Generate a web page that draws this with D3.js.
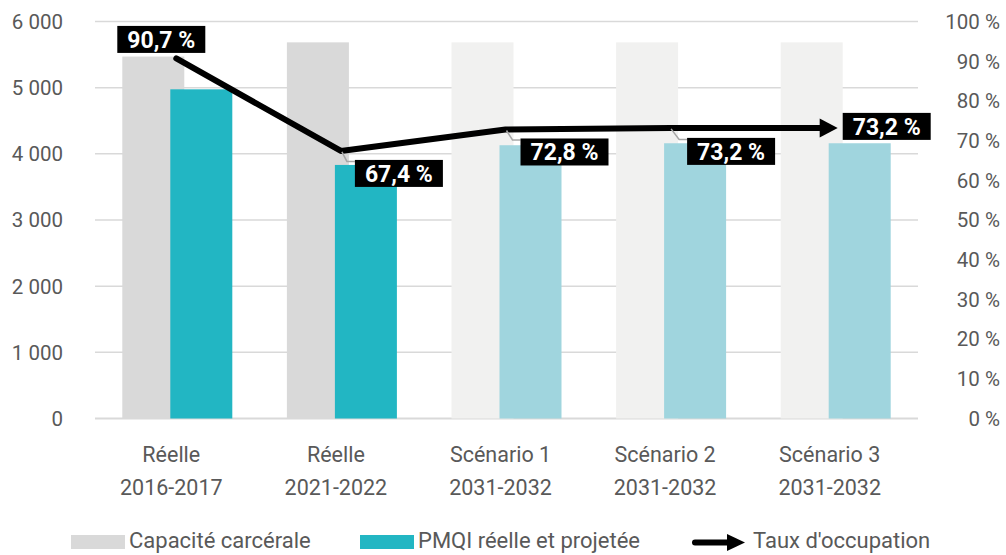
<!DOCTYPE html>
<html><head><meta charset="utf-8">
<script src="https://cdn.jsdelivr.net/npm/d3@7"></script>
<style>
html,body{margin:0;padding:0;background:#fff;}
svg{display:block;font-family:Roboto,"Noto Sans",sans-serif;}
</style></head>
<body><svg id="c" width="1006" height="555"></svg>
<script>
const categoriesL1 = ["Réelle","Réelle","Scénario 1","Scénario 2","Scénario 3"];
const categoriesL2 = ["2016-2017","2021-2022","2031-2032","2031-2032","2031-2032"];
const capacite = [5470, 5685, 5685, 5685, 5685];
const pmqi = [4975, 3832, 4130, 4160, 4160];
const taux = [90.7, 67.4, 72.8, 73.2, 73.2];
const tauxLabels = ["90,7 %","67,4 %","72,8 %","73,2 %","73,2 %"];
const leftTicks = [0,1000,2000,3000,4000,5000,6000];
const rightTicks = [0,10,20,30,40,50,60,70,80,90,100];
const seriesNames = ["Capacité carcérale","PMQI réelle et projetée","Taux d'occupation"];

const svg = d3.select("#c");
const x = d3.scaleBand().domain(d3.range(5)).range([95,918]);
const yL = d3.scaleLinear().domain([0,6000]).range([418.5,21.5]);
const yR = d3.scaleLinear().domain([0,100]).range([418.5,21.5]);
const fmtL = d => d3.format(",")(d).replace(/,/g," ");
const txtCol = "#595959";

// gridlines
svg.append("g").selectAll("line").data(leftTicks).join("line")
  .attr("x1",95).attr("x2",918).attr("y1",d=>yL(d)).attr("y2",d=>yL(d))
  .attr("stroke","#d9d9d9").attr("stroke-width",d=>d===0?2:1.5);

// left axis labels
svg.append("g").selectAll("text").data(leftTicks).join("text")
  .attr("x",63).attr("y",d=>yL(d)).attr("dy","0.36em").attr("text-anchor","end")
  .attr("font-size",20.5).attr("fill",txtCol).text(fmtL);
// right axis labels
svg.append("g").selectAll("text").data(rightTicks).join("text")
  .attr("x",1000).attr("y",d=>yR(d)).attr("dy","0.36em").attr("text-anchor","end")
  .attr("font-size",20.5).attr("fill",txtCol).text(d=>d+" %");

const cx = i => x(i)+x.bandwidth()/2;
const greyCol = i => i<2 ? "#d9d9d9" : "#f1f1f0";
const tealCol = i => i<2 ? "#22b6c3" : "#a0d5de";
// capacity bars
svg.append("g").selectAll("rect").data(capacite).join("rect")
  .attr("x",(d,i)=>cx(i)-55).attr("width",62)
  .attr("y",d=>yL(d)).attr("height",d=>yL(0)-yL(d)).attr("fill",(d,i)=>greyCol(i));
// pmqi bars
svg.append("g").selectAll("rect").data(pmqi).join("rect")
  .attr("x",(d,i)=>cx(i)-7).attr("width",62)
  .attr("y",d=>yL(d)).attr("height",d=>yL(0)-yL(d)).attr("fill",(d,i)=>tealCol(i));

// category labels
const cat = svg.append("g");
cat.selectAll("text.l1").data(categoriesL1).join("text").attr("class","l1")
  .attr("x",(d,i)=>cx(i)-6).attr("y",462).attr("text-anchor","middle")
  .attr("font-size",21.5).attr("fill",txtCol).text(d=>d);
cat.selectAll("text.l2").data(categoriesL2).join("text").attr("class","l2")
  .attr("x",(d,i)=>cx(i)-6).attr("y",495).attr("text-anchor","middle")
  .attr("font-size",21.5).attr("fill",txtCol).text(d=>d);

// line
const pts = taux.map((v,i)=>[cx(i)+(i===4?2:-1), yR(v)]);
const last = pts[4];
const linePts = pts.slice(0,4).concat([[last[0]-14,last[1]]]);
svg.append("path").attr("d",d3.line()(linePts)).attr("fill","none")
  .attr("stroke","#000").attr("stroke-width",6).attr("stroke-linecap","round").attr("stroke-linejoin","round");
svg.append("path").attr("d",`M${last[0]-18},${last[1]-9.5}L${last[0]},${last[1]}L${last[0]-18},${last[1]+9.5}Z`).attr("fill","#000");

// data labels
const offs = [[-59,-32.5,false],[14,9,true],[15,9,true],[17,10,true],[5,-15,false]];
const lab = svg.append("g");
taux.forEach((v,i)=>{
  const p = pts[i];
  const o = offs[i];
  const bx = p[0]+o[0], by = p[1]+o[1];
  const bw = 88, bh = 27;
  if(o[2]){
    lab.append("polyline").attr("points",`${p[0]+1},${p[1]+1} ${bx-8},${by+1.5} ${bx},${by+1.5}`)
      .attr("fill","none").attr("stroke","#a6a6a6").attr("stroke-width",1.5);
  }
  lab.append("rect").attr("x",bx).attr("y",by).attr("width",bw).attr("height",bh).attr("fill","#000");
  lab.append("text").attr("x",bx+bw/2).attr("y",by+bh/2).attr("dy","0.36em").attr("text-anchor","middle")
    .attr("font-size",23).attr("font-weight","bold").attr("fill","#fff").text(tauxLabels[i]);
});

// legend
const lg = svg.append("g");
lg.append("rect").attr("x",71).attr("y",535).attr("width",54).attr("height",14).attr("fill","#d9d9d9");
lg.append("text").attr("x",129).attr("y",548).attr("font-size",22).attr("fill",txtCol).text(seriesNames[0]);
lg.append("rect").attr("x",360).attr("y",535).attr("width",54).attr("height",14).attr("fill","#22b6c3");
lg.append("text").attr("x",418).attr("y",548).attr("font-size",22).attr("fill",txtCol).text(seriesNames[1]);
lg.append("line").attr("x1",695).attr("x2",730).attr("y1",542.5).attr("y2",542.5).attr("stroke","#000").attr("stroke-width",6).attr("stroke-linecap","round");
lg.append("path").attr("d","M727,534L745,542.5L727,551Z").attr("fill","#000");
lg.append("text").attr("x",753).attr("y",548).attr("font-size",22).attr("fill",txtCol).text(seriesNames[2]);
</script></body></html>
